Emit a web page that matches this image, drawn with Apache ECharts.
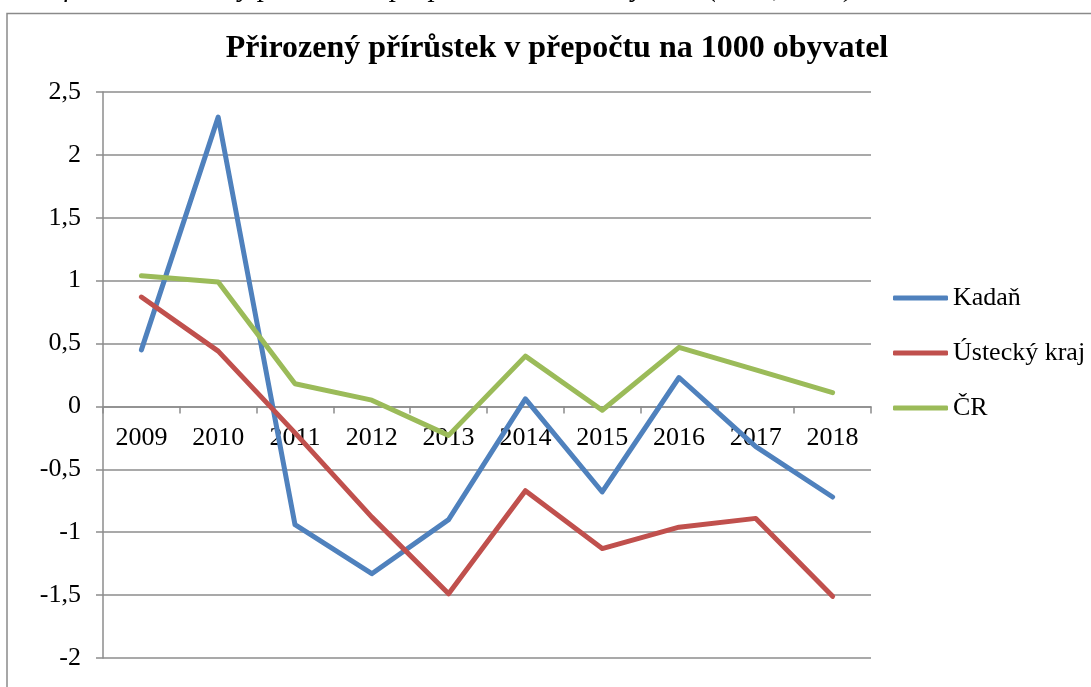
<!DOCTYPE html>
<html>
<head>
<meta charset="utf-8">
<script src="https://cdn.jsdelivr.net/npm/echarts@6/dist/echarts.min.js"></script>
<style>
  html, body { margin: 0; padding: 0; background: #fff; }
  #chart { width: 1091px; height: 687px; }
</style>
</head>
<body>
<div id="chart"></div>
<script>
// Přirozený přírůstek na 1000 obyvatel
const years = ['2009', '2010', '2011', '2012', '2013', '2014', '2015', '2016', '2017', '2018']
const kadan = [0.45, 2.30, -0.94, -1.33, -0.90, 0.06, -0.68, 0.23, -0.32, -0.72]
const ustecky = [0.87, 0.44, -0.21, -0.88, -1.49, -0.67, -1.13, -0.96, -0.89, -1.51]
const cr = [1.04, 0.99, 0.18, 0.05, -0.23, 0.40, -0.03, 0.47, 0.29, 0.11]

const seriesNames = ['Kadaň', 'Ústecký kraj', 'ČR']
const seriesColors = ['#4F81BD', '#C0504D', '#9BBB59']

const font = '"Liberation Serif", "DejaVu Serif", serif'
const gridGray = '#8c8c8c'

// grid box (px)
const gridTop = 92
const gridBottom = 29
const gridHeight = 687 - gridTop - gridBottom
const yMin = -2
const yMax = 2.5
// move the category axis up to the zero line (labels included)
const zeroOffset = -gridHeight * (0 - yMin) / (yMax - yMin)

const chart = echarts.init(document.getElementById('chart'))

function makeLine(name, data, color) {
  return {
    name: name,
    type: 'line',
    data: data,
    symbol: 'none',
    smooth: false,
    lineStyle: { color: color, width: 5, cap: 'round', join: 'round' },
    itemStyle: { color: color },
    emphasis: { disabled: true }
  }
}

const option = {
  backgroundColor: '#fff',
  animation: false,
  title: {
    text: 'Přirozený přírůstek v přepočtu na 1000 obyvatel',
    left: 552,
    textAlign: 'center',
    top: 28,
    textStyle: { fontFamily: font, fontSize: 32, fontWeight: 'bold', color: '#000' }
  },
  graphic: [
    {
      type: 'text',
      x: 862,
      y: -26,
      style: {
        text: 'Graf č. 5: Přirozený přírůstek v přepočtu na 1000 obyvatel (ČSÚ, 2019).',
        font: 'italic 29px ' + font,
        fill: '#000',
        align: 'right',
        verticalAlign: 'top'
      }
    },
    {
      type: 'rect',
      shape: { x: 7, y: 13.5, width: 1100, height: 700 },
      style: { fill: 'none', stroke: '#8a8a8a', lineWidth: 1.5 },
      silent: true
    }
  ],
  legend: {
    orient: 'vertical',
    left: 888,
    top: 280,
    itemWidth: 55,
    itemHeight: 5,
    itemGap: 29,
    icon: 'roundRect',
    data: seriesNames,
    textStyle: { fontFamily: font, fontSize: 26, color: '#000' }
  },
  grid: {
    left: 103,
    right: 220,
    top: gridTop,
    bottom: gridBottom
  },
  xAxis: {
    type: 'category',
    data: years,
    boundaryGap: true,
    offset: zeroOffset,
    axisLine: { onZero: false, lineStyle: { color: gridGray, width: 1.5 } },
    axisTick: { show: true, length: 7, inside: false, alignWithLabel: false, lineStyle: { color: gridGray, width: 1.5 } },
    axisLabel: { fontFamily: font, fontSize: 26, color: '#000', margin: 19, interval: 0 },
    splitLine: { show: false }
  },
  yAxis: {
    type: 'value',
    min: yMin,
    max: yMax,
    interval: 0.5,
    axisLine: { show: true, lineStyle: { color: gridGray, width: 1.5 } },
    axisTick: { show: true, length: 7, lineStyle: { color: gridGray, width: 1.5 } },
    axisLabel: {
      fontFamily: font,
      fontSize: 26,
      color: '#000',
      margin: 22,
      formatter: v => String(v).replace('.', ',')
    },
    splitLine: { show: true, lineStyle: { color: gridGray, width: 1.5 } }
  },
  series: [
    makeLine(seriesNames[0], kadan, seriesColors[0]),
    makeLine(seriesNames[1], ustecky, seriesColors[1]),
    makeLine(seriesNames[2], cr, seriesColors[2])
  ]
}

chart.setOption(option)
</script>
</body>
</html>
